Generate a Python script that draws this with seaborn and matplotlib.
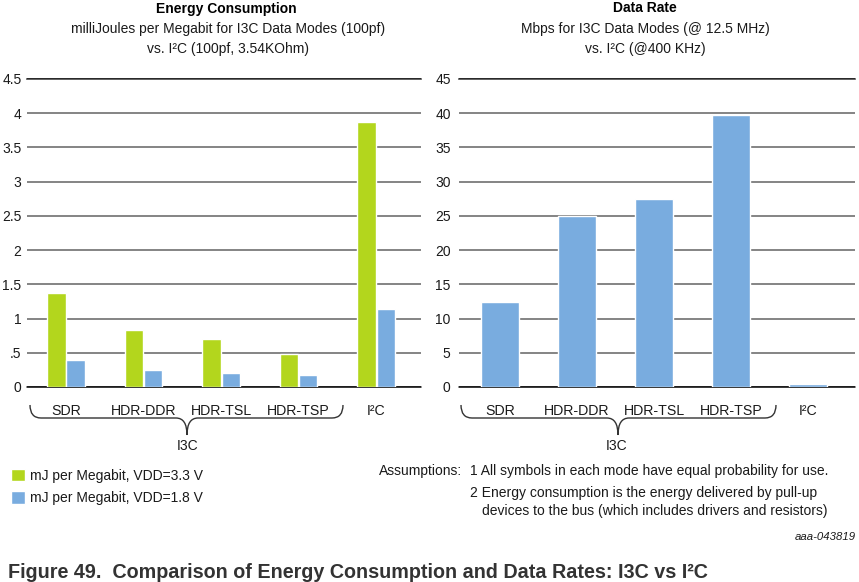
import numpy as np
import pandas as pd
import matplotlib
matplotlib.use("Agg")
import matplotlib.pyplot as plt
from matplotlib.path import Path
from matplotlib.patches import PathPatch
import seaborn as sns

# ---------------- data ----------------
modes = ["SDR", "HDR-DDR", "HDR-TSL", "HDR-TSP", "I²C"]
energy_33v = [1.37, 0.83, 0.70, 0.48, 3.87]
energy_18v = [0.40, 0.25, 0.21, 0.17, 1.14]
series_names = ["mJ per Megabit, VDD=3.3 V", "mJ per Megabit, VDD=1.8 V"]
rate_mbps = [12.4, 25.0, 27.5, 39.7, 0.45]
energy_ticks = [0, 0.5, 1, 1.5, 2, 2.5, 3, 3.5, 4, 4.5]
energy_ticklabels = ["0", ".5", "1", "1.5", "2", "2.5", "3", "3.5", "4", "4.5"]
rate_ticks = [0, 5, 10, 15, 20, 25, 30, 35, 40, 45]

GREEN = "#b3d61d"
BLUE = "#79acdf"
GRID = "#707070"
TXT = "#1a1a1a"
FS = 10

sns.set_style("white")
plt.rcParams["font.family"] = ["Liberation Sans", "DejaVu Sans"]

W, H = 859, 582
fig = plt.figure(figsize=(W / 100, H / 100), dpi=100)


def fx(x):
    return x / W


def fy(y):
    return 1 - y / H


def axes_px(x0, x1, ytop, ybot):
    return fig.add_axes([fx(x0), fy(ybot), fx(x1) - fx(x0), (ybot - ytop) / H])


# ---------------- left chart ----------------
axL = axes_px(27, 421, 79, 387)
df = pd.DataFrame({
    "mode": modes * 2,
    "series": [series_names[0]] * len(modes) + [series_names[1]] * len(modes),
    "value": energy_33v + energy_18v,
})
sns.barplot(data=df, x="mode", y="value", hue="series", order=modes,
            hue_order=series_names, palette=[GREEN, BLUE], width=0.5,
            gap=0.05, saturation=1, ax=axL, errorbar=None, zorder=2)
axL.set_ylim(0, 4.5)
axL.set_xlim(-0.503, 4.58)
axL.set_yticks(energy_ticks)
axL.set_yticklabels(energy_ticklabels)

# ---------------- right chart ----------------
axR = axes_px(459, 855, 79, 387)
sns.barplot(x=modes, y=rate_mbps, color=BLUE, width=0.49, saturation=1,
            ax=axR, errorbar=None, zorder=2)
axR.set_ylim(0, 45)
axR.set_xlim(-0.532, 4.61)
axR.set_yticks(rate_ticks)
axR.set_yticklabels([str(t) for t in rate_ticks])

for ax, top in ((axL, 4.5), (axR, 45)):
    for s in ax.spines.values():
        s.set_visible(False)
    ax.set_axisbelow(True)
    ax.yaxis.grid(True, color=GRID, linewidth=1.2)
    ax.xaxis.grid(False)
    ax.axhline(top, color="black", linewidth=1.2, zorder=0.5, clip_on=False)
    ax.axhline(0, color="black", linewidth=1.1, zorder=0.6, clip_on=False)
    ax.set_xlabel("")
    ax.set_ylabel("")
    ax.tick_params(axis="x", length=0, pad=12, labelsize=10.2, labelcolor=TXT)
    ax.tick_params(axis="y", length=0, labelsize=FS, labelcolor=TXT)
axL.tick_params(axis="y", pad=4)
axR.tick_params(axis="y", pad=6)

# legend (from seaborn hue legend)
sns.move_legend(axL, loc="upper left", bbox_to_anchor=(fx(1), fy(459)),
                bbox_transform=fig.transFigure, title=None, frameon=False,
                fontsize=FS, handlelength=1.0, handleheight=1.0,
                handletextpad=0.4, labelspacing=0.6, borderpad=0.2)
for t in axL.get_legend().get_texts():
    t.set_color(TXT)

# ---------------- titles ----------------
fig.text(fx(226), fy(8.5), "Energy Consumption", ha="center", va="center",
         fontsize=10, fontweight="bold", color="black")
fig.text(fx(228), fy(29.5), "milliJoules per Megabit for I3C Data Modes (100pf)",
         ha="center", va="center", fontsize=FS, color=TXT)
fig.text(fx(228), fy(49), "vs. I²C (100pf, 3.54KOhm)",
         ha="center", va="center", fontsize=FS, color=TXT)
fig.text(fx(645), fy(8.5), "Data Rate", ha="center", va="center",
         fontsize=10, fontweight="bold", color="black")
fig.text(fx(645), fy(29.5), "Mbps for I3C Data Modes (@ 12.5 MHz)",
         ha="center", va="center", fontsize=FS, color=TXT)
fig.text(fx(645), fy(49), "vs. I²C (@400 KHz)",
         ha="center", va="center", fontsize=FS, color=TXT)


# ---------------- braces ----------------
def brace(x0, x1, xm, ytop=405, yh=418, ytip=435, r=11):
    pts = [(x0, ytop), (x0, yh), (x0 + r, yh), (xm - r, yh),
           (xm, yh), (xm, ytip), (xm, yh), (xm + r, yh),
           (x1 - r, yh), (x1, yh), (x1, ytop)]
    codes = [Path.MOVETO, Path.CURVE3, Path.CURVE3, Path.LINETO,
             Path.CURVE3, Path.CURVE3, Path.CURVE3, Path.CURVE3,
             Path.LINETO, Path.CURVE3, Path.CURVE3]
    verts = [(fx(x), fy(y)) for x, y in pts]
    fig.add_artist(PathPatch(Path(verts, codes), facecolor="none",
                             edgecolor="#333333", linewidth=1.0,
                             transform=fig.transFigure))


brace(30, 343, 187)
fig.text(fx(187.5), fy(446), "I3C", ha="center", va="center", fontsize=FS, color=TXT)
brace(461, 776, 618)
fig.text(fx(617), fy(446.5), "I3C", ha="center", va="center", fontsize=FS, color=TXT)

# ---------------- assumptions ----------------
fig.text(fx(379), fy(471.5), "Assumptions:", ha="left", va="center",
         fontsize=FS, color=TXT)
fig.text(fx(469.5), fy(471.5),
         "1 All symbols in each mode have equal probability for use.",
         ha="left", va="center", fontsize=FS, color=TXT)
fig.text(fx(469.5), fy(492.5),
         "2 Energy consumption is the energy delivered by pull-up",
         ha="left", va="center", fontsize=FS, color=TXT)
fig.text(fx(482.5), fy(511.5),
         "devices to the bus (which includes drivers and resistors)",
         ha="left", va="center", fontsize=FS, color=TXT)
fig.text(fx(856), fy(537), "aaa-043819", ha="right", va="center",
         fontsize=8.2, style="italic", color=TXT)

# ---------------- caption ----------------
fig.text(fx(7.5), fy(578), "Figure 49.  Comparison of Energy Consumption and Data Rates: I3C vs I²C",
         ha="left", va="baseline", fontsize=14.2, fontweight="bold", color="#333333")

fig.savefig("out.png", dpi=100)
